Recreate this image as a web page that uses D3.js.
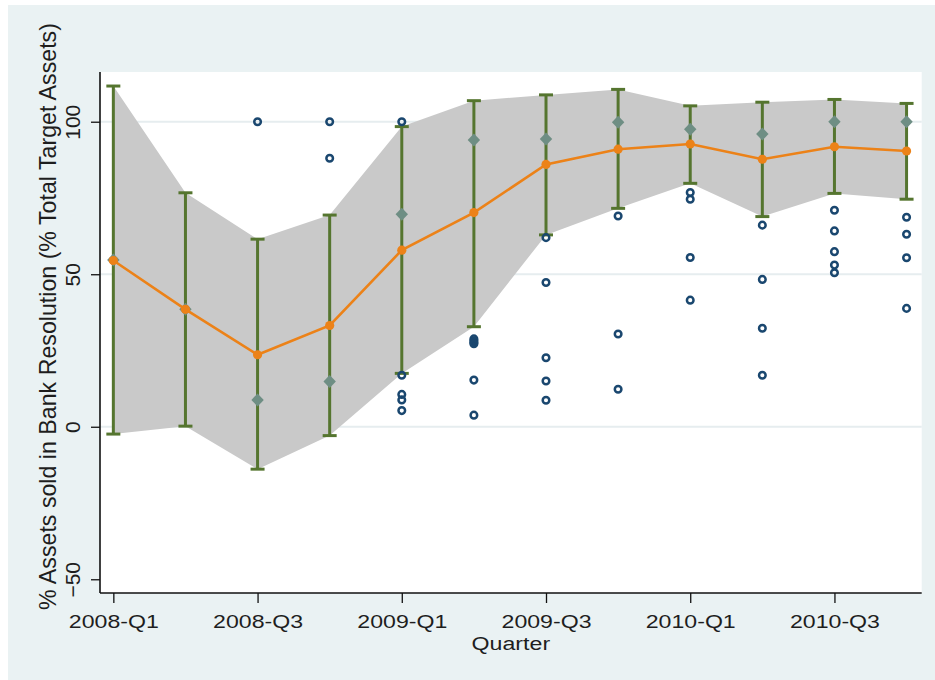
<!DOCTYPE html>
<html>
<head>
<meta charset="utf-8">
<script src="https://cdn.jsdelivr.net/npm/d3@7"></script>
<style>
  html, body { margin: 0; padding: 0; background: #ffffff; }
  svg { display: block; }
  text { font-family: "Liberation Sans", Arial, sans-serif; fill: #1e1e1e; }
</style>
</head>
<body>
<svg id="chart" width="935" height="680"></svg>
<script>
// Quarters on the x axis and the labels shown every second quarter
const quarters = ["2008-Q1","2008-Q2","2008-Q3","2008-Q4","2009-Q1","2009-Q2",
                  "2009-Q3","2009-Q4","2010-Q1","2010-Q2","2010-Q3","2010-Q4"];
const tickQuarters = ["2008-Q1","2008-Q3","2009-Q1","2009-Q3","2010-Q1","2010-Q3"];
const yTicks = [-50, 0, 50, 100];

// Mean share of assets sold per quarter (orange line)
const meanShare = [54.5, 38.5, 23.6, 33.2, 57.9, 70.2, 86.0, 91.0, 92.7, 87.7, 91.8, 90.4];
// Median share per quarter (diamonds)
const medianShare = [54.7, 38.5, 8.8, 14.8, 69.7, 94.0, 94.3, 99.8, 97.5, 96.0, 100, 100];
// Upper and lower bounds (error bars and shaded band)
const upperBound = [111.7, 76.7, 61.5, 69.4, 98.4, 106.9, 108.8, 110.6, 105.2, 106.4, 107.3, 106.0];
const lowerBound = [-2.4, 0.2, -13.9, -2.9, 17.5, 32.8, 62.9, 71.6, 79.8, 68.9, 76.5, 74.6];
// Individual resolutions, grouped by quarter (hollow circles)
const individual = [
  [],
  [],
  [100],
  [100, 88],
  [100, 16.9, 10.6, 8.8, 5.3],
  [28.8, 28.2, 27.6, 27.2, 15.3, 3.8],
  [62, 47.3, 22.6, 15, 8.7],
  [69.1, 30.4, 12.3],
  [76.8, 74.6, 55.5, 41.5],
  [66.1, 48.3, 32.3, 16.9],
  [71, 64.2, 57.4, 53, 50.5],
  [68.7, 63.1, 55.4, 38.8]
];

const yTitle = "% Assets sold in Bank Resolution (% Total Target Assets)";
const xTitle = "Quarter";

const svg = d3.select("#chart");

// Plot region bounds
const plot = { left: 100, right: 921.7, top: 72, bottom: 593 };

const x = d3.scaleLinear().domain([-0.185, 11.21]).range([plot.left, plot.right]);
const y = d3.scaleLinear().domain([-54.5, 116.3]).range([plot.bottom, plot.top]);

// Graph region background and white plot region
svg.append("rect").attr("x", 8).attr("y", 5).attr("width", 927).attr("height", 675)
  .attr("fill", "#eaf2f3");
svg.append("rect").attr("x", plot.left).attr("y", plot.top)
  .attr("width", plot.right - plot.left).attr("height", plot.bottom - plot.top)
  .attr("fill", "#ffffff");

// Horizontal grid lines
svg.append("g").selectAll("line").data(yTicks.filter(d => d !== -50)).join("line")
  .attr("x1", plot.left).attr("x2", plot.right)
  .attr("y1", d => y(d)).attr("y2", d => y(d))
  .attr("stroke", "#e6edef").attr("stroke-width", 2);

const idx = d3.range(quarters.length);

// Shaded band between the bounds
svg.append("path")
  .datum(idx)
  .attr("d", d3.area().x(i => x(i)).y0(i => y(lowerBound[i])).y1(i => y(upperBound[i])))
  .attr("fill", "#c9c9c9");

// Error bars with caps
const bars = svg.append("g").attr("stroke", "#55752f").attr("stroke-width", 3).attr("fill", "none");
bars.selectAll("line.v").data(idx).join("line").attr("class", "v")
  .attr("x1", i => x(i)).attr("x2", i => x(i))
  .attr("y1", i => y(upperBound[i])).attr("y2", i => y(lowerBound[i]));
bars.selectAll("line.t").data(idx).join("line").attr("class", "t")
  .attr("x1", i => x(i) - 7).attr("x2", i => x(i) + 7)
  .attr("y1", i => y(upperBound[i])).attr("y2", i => y(upperBound[i]));
bars.selectAll("line.b").data(idx).join("line").attr("class", "b")
  .attr("x1", i => x(i) - 7).attr("x2", i => x(i) + 7)
  .attr("y1", i => y(lowerBound[i])).attr("y2", i => y(lowerBound[i]));

// Individual observations
const pts = idx.flatMap(i => individual[i].map(v => ({ i, v })));
svg.append("g").selectAll("circle").data(pts).join("circle")
  .attr("cx", d => x(d.i)).attr("cy", d => y(d.v)).attr("r", 3.3)
  .attr("fill", "none").attr("stroke", "#1a476f").attr("stroke-width", 2.5);

// Median diamonds
svg.append("g").selectAll("path").data(idx).join("path")
  .attr("transform", i => `translate(${x(i)},${y(medianShare[i])})`)
  .attr("d", "M0,-6.5L6.2,0L0,6.5L-6.2,0Z")
  .attr("fill", "#6e8e84");

// Mean line with markers
svg.append("path").datum(idx)
  .attr("d", d3.line().x(i => x(i)).y(i => y(meanShare[i])))
  .attr("fill", "none").attr("stroke", "#ec8218").attr("stroke-width", 2.6);
svg.append("g").selectAll("circle").data(idx).join("circle")
  .attr("cx", i => x(i)).attr("cy", i => y(meanShare[i])).attr("r", 4.6)
  .attr("fill", "#ec8218");

// Y axis
const yAxis = svg.append("g").attr("transform", `translate(${plot.left},0)`)
  .call(d3.axisLeft(y).tickValues(yTicks).tickSize(9).tickFormat(d3.format("d")));
yAxis.select(".domain").attr("d", `M0,${plot.top}V${plot.bottom}`)
  .attr("stroke", "#111").attr("stroke-width", 1.6);
yAxis.selectAll(".tick line").attr("stroke", "#111").attr("stroke-width", 1.3);
yAxis.selectAll(".tick text")
  .attr("x", null).attr("dy", null)
  .attr("transform", "translate(-20,0) rotate(-90)")
  .attr("text-anchor", "middle")
  .style("font-size", "21px")
  .style("font-family", "'Liberation Sans', Arial, sans-serif")
  .attr("fill", "#1e1e1e");

// X axis
const xAxis = svg.append("g").attr("transform", `translate(0,${plot.bottom})`)
  .call(d3.axisBottom(x).tickValues(tickQuarters.map(q => quarters.indexOf(q)))
        .tickSize(10).tickFormat(i => quarters[i]));
xAxis.select(".domain").attr("d", `M${plot.left},0H${plot.right}`)
  .attr("stroke", "#111").attr("stroke-width", 1.6);
xAxis.selectAll(".tick line").attr("stroke", "#111").attr("stroke-width", 1.3);
xAxis.selectAll(".tick text")
  .attr("y", null).attr("dy", null)
  .attr("transform", "translate(0,34.5) scale(1.25,1)")
  .attr("text-anchor", "middle")
  .style("font-size", "18.5px")
  .style("font-family", "'Liberation Sans', Arial, sans-serif")
  .attr("fill", "#1e1e1e");

// Axis titles
svg.append("text")
  .attr("transform", `translate(${(plot.left + plot.right) / 2},650) scale(1.22,1)`)
  .attr("text-anchor", "middle").style("font-size", "19px").text(xTitle);
svg.append("text")
  .attr("transform", "translate(56,316.5) rotate(-90)")
  .attr("text-anchor", "middle").style("font-size", "23.2px").text(yTitle);
</script>
</body>
</html>
